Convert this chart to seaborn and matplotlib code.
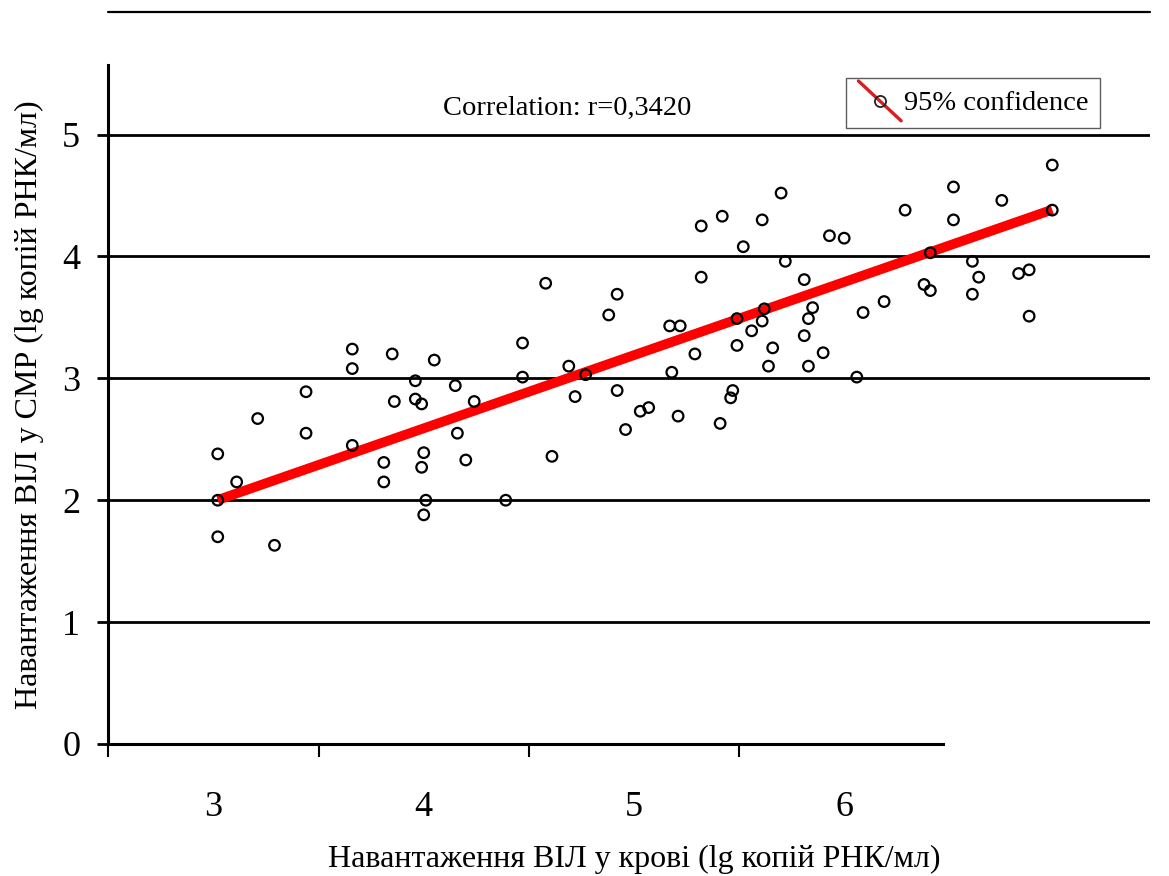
import numpy as np
import pandas as pd
import matplotlib
matplotlib.use("Agg")
import matplotlib.pyplot as plt
from matplotlib.lines import Line2D
from matplotlib.legend_handler import HandlerLine2D
import seaborn as sns

# ================================
# data
# ================================
hiv_blood = [3.66, 3.66, 3.85, 4.05, 3.96, 4.15, 3.44, 3.86, 3.96, 3.99,
             4.24, 3.21, 3.44, 3.66, 4.16, 3.02, 4.00, 3.81, 3.99, 4.20,
             3.11, 3.81, 3.02, 4.01, 4.00, 3.02, 3.29,
             4.47, 4.88, 5.17, 5.22, 5.49, 5.62, 5.61, 5.56, 5.85, 5.83,
             5.81, 6.09, 5.49, 5.66, 5.29, 5.90, 4.69, 4.47, 4.77, 5.18,
             5.64, 5.83, 6.06, 4.92, 4.72, 5.47, 5.46, 5.07, 5.03, 5.21,
             4.96, 5.41, 4.61, 4.39, 5.70, 5.42, 5.61, 5.32, 5.93, 6.00,
             5.52, 5.72, 5.32, 5.81, 4.58, 4.92,
             6.99, 6.52, 6.75, 6.29, 6.52, 6.99, 6.41, 6.61, 6.64, 6.83,
             6.88, 6.38, 6.41, 6.61, 6.19, 6.88]
hiv_csf = [3.24, 3.08, 3.20, 3.15, 2.98, 2.94, 2.89, 2.81, 2.83, 2.79,
           2.81, 2.67, 2.55, 2.45, 2.55, 2.38, 2.39, 2.31, 2.27, 2.33,
           2.15, 2.15, 2.00, 2.00, 1.88, 1.70, 1.63,
           3.29, 3.52, 3.43, 3.43, 3.49, 3.57, 3.47, 3.39, 3.58, 3.49,
           3.35, 3.54, 3.27, 3.25, 3.20, 3.21, 3.10, 3.01, 3.03, 3.05,
           3.10, 3.10, 3.01, 2.90, 2.85, 2.90, 2.84, 2.76, 2.73, 2.69,
           2.58, 2.63, 2.36, 2.00, 4.52, 4.33, 4.30, 4.25, 4.17, 4.15,
           4.08, 3.96, 3.83, 3.81, 3.78, 3.69,
           4.75, 4.57, 4.46, 4.38, 4.30, 4.38, 4.03, 3.96, 3.83, 3.86,
           3.89, 3.77, 3.72, 3.69, 3.63, 3.51]

# fitted line as printed on the original chart
fit_slope = 0.60
fit_intercept = 0.19

x_ticklabels = ["3", "4", "5", "6"]
y_ticks = [0, 1, 2, 3, 4, 5]
corr_text = "Correlation: r=0,3420"
legend_text = "95% confidence"
x_title = "Навантаження ВІЛ у крові (lg копій РНК/мл)"
y_title = "Навантаження ВІЛ у СМР (lg копій РНК/мл)"

df = pd.DataFrame({"blood": hiv_blood, "csf": hiv_csf})
fit_x = np.array([df["blood"].min(), df["blood"].max()])
fit_df = pd.DataFrame({"blood": fit_x, "csf": fit_intercept + fit_slope * fit_x})

sns.set_style("white")
plt.rcParams["font.family"] = ["Liberation Serif", "DejaVu Serif"]
plt.rcParams["text.color"] = "black"
plt.rcParams["axes.labelcolor"] = "black"
plt.rcParams["xtick.color"] = "black"
plt.rcParams["ytick.color"] = "black"

fig = plt.figure(figsize=(11.69, 8.76), dpi=100)
ax = fig.add_axes([0.0924, 0.1507, 0.891, 0.775])

# regression line (red) then open circles on top
sns.lineplot(data=fit_df, x="blood", y="csf", ax=ax, color="#ff0000", lw=7,
             solid_capstyle="butt", zorder=3)
sns.scatterplot(data=df, x="blood", y="csf", ax=ax, marker="o", s=58,
                facecolor="none", edgecolor="black", linewidth=1.6, zorder=5)

ax.set_xlim(2.498, 7.453)
ax.set_ylim(0, 5.57)

# horizontal grid lines
for yv in y_ticks[1:]:
    ax.axhline(yv, color="black", lw=2.0, zorder=1)

ax.set_yticks(y_ticks)
ax.set_xticks([3, 4, 5, 6])
ax.set_xticklabels(x_ticklabels)
ax.set_xticks([2.5, 3.5, 4.5, 5.5], minor=True)
ax.tick_params(axis="x", which="major", bottom=False, length=0, pad=34,
               labelsize=26)
ax.tick_params(axis="x", which="minor", bottom=True, length=9, width=1.5,
               color="black", direction="out")
ax.tick_params(axis="y", left=True, length=8, width=2, color="black",
               direction="out", pad=12, labelsize=26)

for s in ["top", "right"]:
    ax.spines[s].set_visible(False)
ax.spines["left"].set_linewidth(2.2)
ax.spines["left"].set_color("black")
ax.spines["bottom"].set_linewidth(2.2)
ax.spines["bottom"].set_color("black")
ax.spines["bottom"].set_bounds(2.5, 6.47)

ax.set_xlabel(x_title, fontsize=23)
ax.set_ylabel(y_title, fontsize=23)
ax.xaxis.set_label_coords(0.505, -0.148)
ax.yaxis.set_label_coords(-0.061, 0.5)

ax.text(0.4405, 0.9366, corr_text, transform=ax.transAxes, ha="center",
        va="center", fontsize=20.5)


# legend with a slanted red line through an open circle
class SlantHandler(HandlerLine2D):
    def create_artists(self, legend, orig_handle, xdescent, ydescent,
                       width, height, fontsize, trans):
        x0, x1 = -xdescent, width - xdescent
        y0, y1 = height * 1.45 - ydescent, -height * 0.55 - ydescent
        ln = Line2D([x0, x1], [y0, y1], color="#d42020", lw=2.4,
                    transform=trans)
        mk = Line2D([(x0 + x1) / 2], [(y0 + y1) / 2], marker="o",
                    markersize=8, markerfacecolor="none",
                    markeredgecolor="#222222", markeredgewidth=1.3,
                    linestyle="none", transform=trans)
        return [ln, mk]


handle = Line2D([], [], color="#d42020")
leg = ax.legend([handle], [legend_text], handler_map={handle: SlantHandler()},
                loc="upper left", bbox_to_anchor=(0.709, 0.981),
                fontsize=20.5, frameon=True, fancybox=False,
                handlelength=1.5, handletextpad=0.1, borderpad=0.42,
                borderaxespad=0)
leg.get_frame().set_edgecolor("#333333")
leg.get_frame().set_linewidth(1.0)

# top border line of the frame
fig.add_artist(Line2D([0.0924, 0.984], [0.986, 0.986], color="black", lw=1.6))

plt.savefig("out.png", dpi=100)
